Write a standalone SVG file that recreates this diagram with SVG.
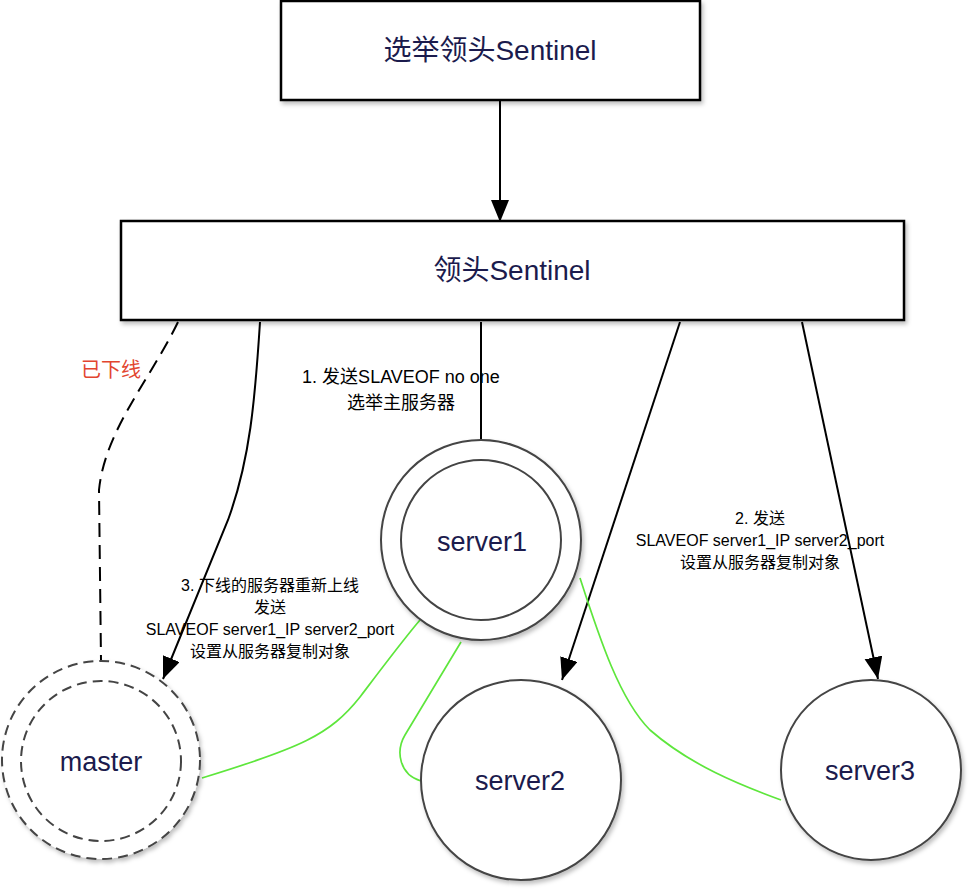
<svg xmlns="http://www.w3.org/2000/svg" width="974" height="894" viewBox="0 0 974 894">
<style>
  .box { fill: #ffffff; stroke: #000000; stroke-width: 2.5; }
  .circ { fill: #ffffff; stroke: #444444; stroke-width: 2; }
  .dcirc { fill: #ffffff; stroke: #444444; stroke-width: 2; stroke-dasharray: 10 6; }
  .title { font-family: "Liberation Sans", "Noto Sans CJK SC", sans-serif; fill: #1b1b4d; text-anchor: middle; }
  .lbl { font-family: "Liberation Sans", "Noto Sans CJK SC", sans-serif; fill: #000000; text-anchor: middle; }
  .edge { fill: none; stroke: #000000; stroke-width: 2; }
  .green { fill: none; stroke: #5ee63c; stroke-width: 1.7; }
</style>
<defs>
  <filter id="sh" x="-10%" y="-10%" width="125%" height="125%">
    <feDropShadow dx="2" dy="3" stdDeviation="2" flood-color="#000000" flood-opacity="0.25"/>
  </filter>
  <marker id="arr" markerUnits="userSpaceOnUse" markerWidth="24" markerHeight="20" refX="22" refY="9" orient="auto">
    <path d="M0,0 L22,9 L0,18 Z" fill="#000000"/>
  </marker>
</defs>

<g id="connectors">
  <path class="edge" d="M500,100 L500,222" marker-end="url(#arr)"/>
  <path class="edge" d="M178,322 C150,380 105,430 99,490 L101,660" stroke-dasharray="14 8"/>
  <path class="edge" d="M260,322 C255,400 250,460 228,520 L163,679" marker-end="url(#arr)"/>
  <path class="edge" d="M481,322 L481,440"/>
  <path class="edge" d="M680,322 L562,680" marker-end="url(#arr)"/>
  <path class="edge" d="M802,322 L878,679" marker-end="url(#arr)"/>
  <path class="green" d="M202,778 C300,748 330,735 360,697 C385,664 403,640 420,620"/>
  <path class="green" d="M461,642 L405,735 C395,752 400,775 421,781"/>
  <path class="green" d="M580,578 C600,640 620,700 650,730 C690,765 740,785 781,800"/>
</g>

<g id="elect">
  <rect class="box" x="281" y="1" width="419" height="99" filter="url(#sh)"/>
  <text class="title" x="490" y="60" font-size="28">选举领头Sentinel</text>
</g>

<g id="leader">
  <rect class="box" x="121" y="221" width="783" height="99" filter="url(#sh)"/>
  <text class="title" x="512" y="280" font-size="28">领头Sentinel</text>
</g>

<g id="server1">
  <circle class="circ" cx="481" cy="540" r="100" filter="url(#sh)"/>
  <circle class="circ" cx="481" cy="540" r="80"/>
  <text class="title" x="482" y="551" font-size="27">server1</text>
</g>

<g id="master">
  <circle class="dcirc" cx="101" cy="760" r="99" filter="url(#sh)"/>
  <circle class="dcirc" cx="101" cy="761" r="80"/>
  <text class="title" x="101" y="771" font-size="27">master</text>
</g>

<g id="server2">
  <circle class="circ" cx="521" cy="780" r="100" filter="url(#sh)"/>
  <text class="title" x="520" y="790" font-size="27">server2</text>
</g>

<g id="server3">
  <circle class="circ" cx="871" cy="770" r="90" filter="url(#sh)"/>
  <text class="title" x="870" y="780" font-size="27">server3</text>
</g>

<g id="labels">
  <text class="lbl" x="111" y="377" font-size="20" style="fill:#e2452f">已下线</text>
  <text class="lbl" x="401" y="383" font-size="18">1. 发送SLAVEOF no one</text>
  <text class="lbl" x="401" y="409" font-size="18">选举主服务器</text>
  <text class="lbl" x="760" y="524" font-size="16">2. 发送</text>
  <text class="lbl" x="760" y="546" font-size="16">SLAVEOF server1_IP server2_port</text>
  <text class="lbl" x="760" y="568" font-size="16">设置从服务器复制对象</text>
  <text class="lbl" x="270" y="591" font-size="16">3. 下线的服务器重新上线</text>
  <text class="lbl" x="270" y="613" font-size="16">发送</text>
  <text class="lbl" x="270" y="635" font-size="16">SLAVEOF server1_IP server2_port</text>
  <text class="lbl" x="270" y="657" font-size="16">设置从服务器复制对象</text>
</g>
</svg>
